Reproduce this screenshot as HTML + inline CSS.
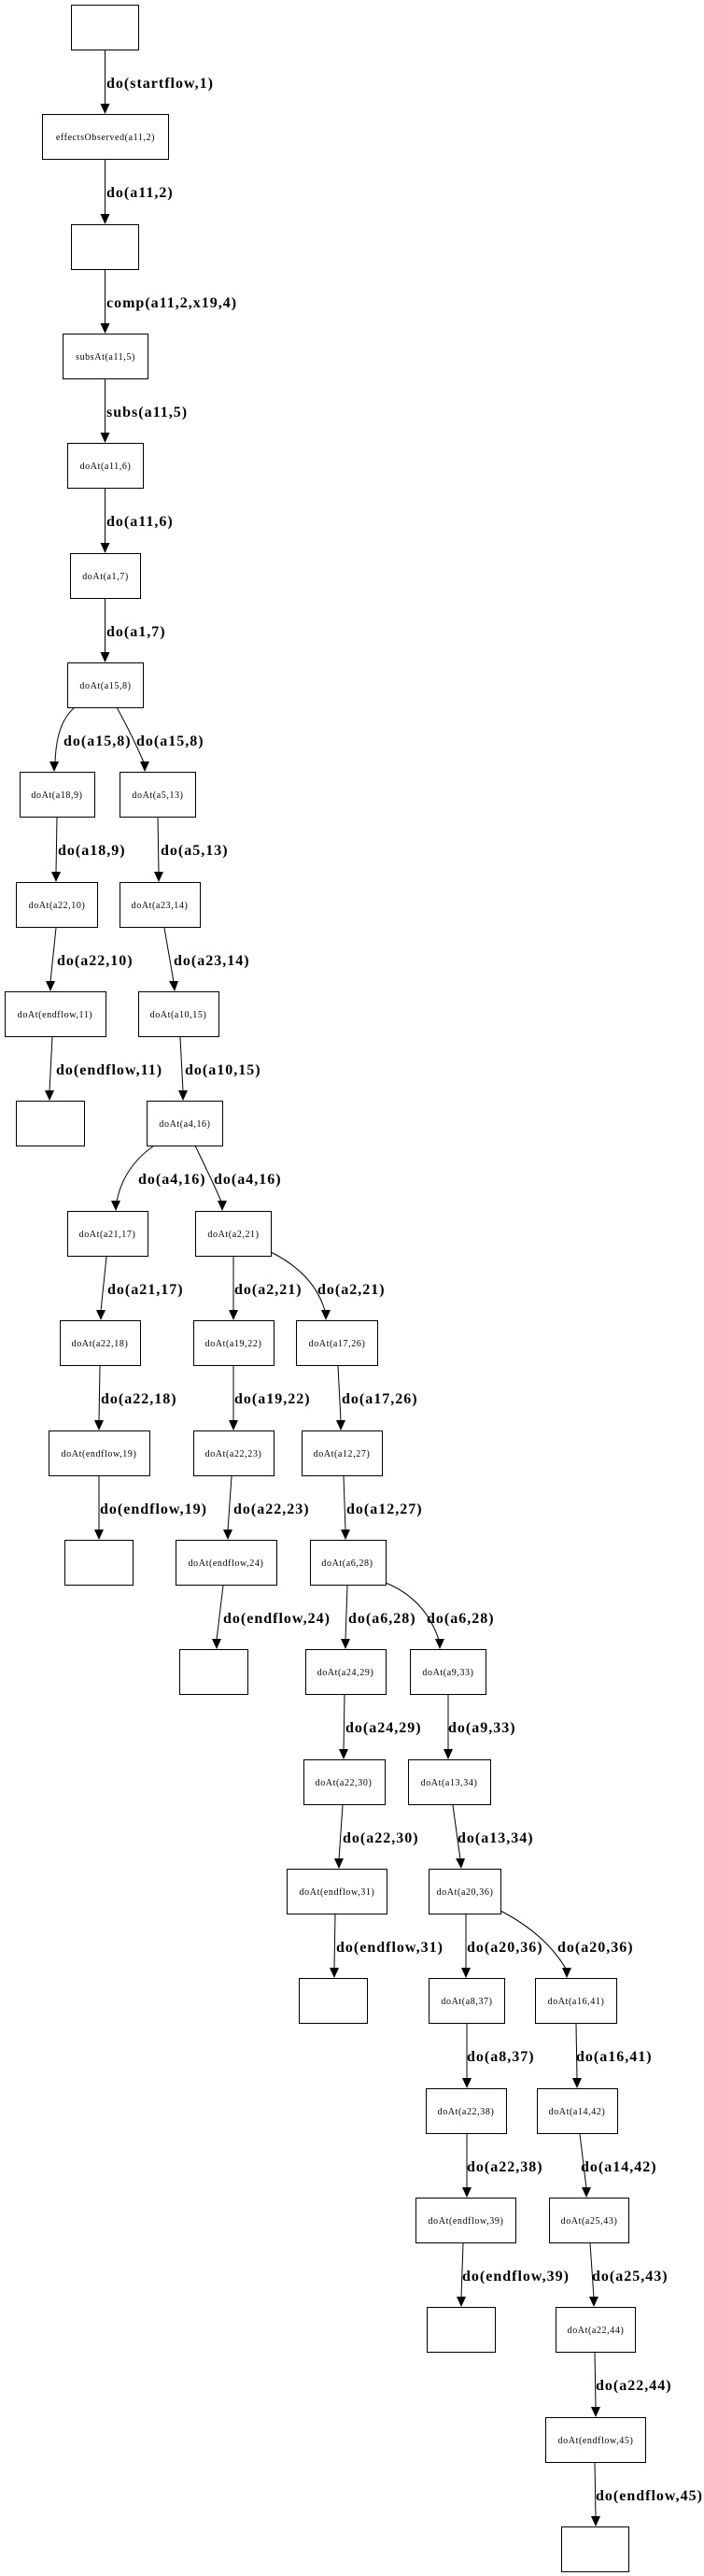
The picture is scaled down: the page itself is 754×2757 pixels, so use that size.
<!DOCTYPE html>
<html><head><meta charset="utf-8"><style>
html,body{margin:0;padding:0;background:#fff;}
svg{display:block;}
.n{fill:#fff;stroke:#000;stroke-width:1;}
.e{fill:none;stroke:#000;stroke-width:1;}
.a{fill:#000;}
.t{font-family:"Liberation Serif",serif;font-size:10px;text-anchor:middle;letter-spacing:0.6px;}
.l{font-family:"Liberation Serif",serif;font-size:16px;font-weight:bold;letter-spacing:1px;}
</style></head><body>
<svg width="754" height="2757" viewBox="0 0 754 2757" xmlns="http://www.w3.org/2000/svg">
<rect class="n" x="76.5" y="5.5" width="72" height="48"/>
<rect class="n" x="45.5" y="122.5" width="135" height="48"/><text class="t" x="113" y="150">effectsObserved(a11,2)</text>
<rect class="n" x="76.5" y="240.5" width="72" height="48"/>
<rect class="n" x="67.5" y="357.5" width="91" height="48"/><text class="t" x="113" y="385">subsAt(a11,5)</text>
<rect class="n" x="72.5" y="474.5" width="81" height="48"/><text class="t" x="113" y="502">doAt(a11,6)</text>
<rect class="n" x="75.5" y="592.5" width="75" height="48"/><text class="t" x="113" y="620">doAt(a1,7)</text>
<rect class="n" x="72.5" y="709.5" width="81" height="48"/><text class="t" x="113" y="737">doAt(a15,8)</text>
<rect class="n" x="21.5" y="826.5" width="80" height="48"/><text class="t" x="61" y="854">doAt(a18,9)</text>
<rect class="n" x="128.5" y="826.5" width="81" height="48"/><text class="t" x="169" y="854">doAt(a5,13)</text>
<rect class="n" x="17.5" y="944.5" width="87" height="48"/><text class="t" x="61" y="972">doAt(a22,10)</text>
<rect class="n" x="128.5" y="944.5" width="86" height="48"/><text class="t" x="171" y="972">doAt(a23,14)</text>
<rect class="n" x="5.5" y="1061.5" width="108" height="48"/><text class="t" x="59" y="1089">doAt(endflow,11)</text>
<rect class="n" x="148.5" y="1061.5" width="86" height="48"/><text class="t" x="191" y="1089">doAt(a10,15)</text>
<rect class="n" x="17.5" y="1178.5" width="73" height="48"/>
<rect class="n" x="157.5" y="1178.5" width="81" height="48"/><text class="t" x="198" y="1206">doAt(a4,16)</text>
<rect class="n" x="72.5" y="1296.5" width="86" height="48"/><text class="t" x="115" y="1324">doAt(a21,17)</text>
<rect class="n" x="209.5" y="1296.5" width="81" height="48"/><text class="t" x="250" y="1324">doAt(a2,21)</text>
<rect class="n" x="64.5" y="1413.5" width="86" height="48"/><text class="t" x="107" y="1441">doAt(a22,18)</text>
<rect class="n" x="207.5" y="1413.5" width="86" height="48"/><text class="t" x="250" y="1441">doAt(a19,22)</text>
<rect class="n" x="317.5" y="1413.5" width="87" height="48"/><text class="t" x="361" y="1441">doAt(a17,26)</text>
<rect class="n" x="52.5" y="1531.5" width="108" height="48"/><text class="t" x="106" y="1559">doAt(endflow,19)</text>
<rect class="n" x="207.5" y="1531.5" width="86" height="48"/><text class="t" x="250" y="1559">doAt(a22,23)</text>
<rect class="n" x="323.5" y="1531.5" width="86" height="48"/><text class="t" x="366" y="1559">doAt(a12,27)</text>
<rect class="n" x="69.5" y="1648.5" width="73" height="48"/>
<rect class="n" x="188.5" y="1648.5" width="108" height="48"/><text class="t" x="242" y="1676">doAt(endflow,24)</text>
<rect class="n" x="332.5" y="1648.5" width="81" height="48"/><text class="t" x="372" y="1676">doAt(a6,28)</text>
<rect class="n" x="192.5" y="1765.5" width="73" height="48"/>
<rect class="n" x="327.5" y="1765.5" width="86" height="48"/><text class="t" x="370" y="1793">doAt(a24,29)</text>
<rect class="n" x="439.5" y="1765.5" width="81" height="48"/><text class="t" x="480" y="1793">doAt(a9,33)</text>
<rect class="n" x="325.5" y="1883.5" width="87" height="48"/><text class="t" x="368" y="1911">doAt(a22,30)</text>
<rect class="n" x="437.5" y="1883.5" width="88" height="48"/><text class="t" x="481" y="1911">doAt(a13,34)</text>
<rect class="n" x="307.5" y="2000.5" width="107" height="48"/><text class="t" x="361" y="2028">doAt(endflow,31)</text>
<rect class="n" x="459.5" y="2000.5" width="77" height="48"/><text class="t" x="498" y="2028">doAt(a20,36)</text>
<rect class="n" x="320.5" y="2117.5" width="73" height="48"/>
<rect class="n" x="459.5" y="2117.5" width="81" height="48"/><text class="t" x="500" y="2145">doAt(a8,37)</text>
<rect class="n" x="573.5" y="2117.5" width="87" height="48"/><text class="t" x="617" y="2145">doAt(a16,41)</text>
<rect class="n" x="456.5" y="2235.5" width="86" height="48"/><text class="t" x="499" y="2263">doAt(a22,38)</text>
<rect class="n" x="575.5" y="2235.5" width="86" height="48"/><text class="t" x="618" y="2263">doAt(a14,42)</text>
<rect class="n" x="445.5" y="2352.5" width="107" height="48"/><text class="t" x="499" y="2380">doAt(endflow,39)</text>
<rect class="n" x="588.5" y="2352.5" width="85" height="48"/><text class="t" x="631" y="2380">doAt(a25,43)</text>
<rect class="n" x="457.5" y="2469.5" width="73" height="48"/>
<rect class="n" x="595.5" y="2469.5" width="85" height="48"/><text class="t" x="638" y="2497">doAt(a22,44)</text>
<rect class="n" x="584.5" y="2587.5" width="107" height="48"/><text class="t" x="638" y="2615">doAt(endflow,45)</text>
<rect class="n" x="601.5" y="2704.5" width="72" height="48"/>

<g>
<path class="e" d="M112.5,54 L112.5,112"/><polygon class="a" points="107.5,111 117.5,111 112.5,122"/><text class="l" x="114" y="94">do(startflow,1)</text>
<path class="e" d="M112.5,171 L112.5,230"/><polygon class="a" points="107.5,229 117.5,229 112.5,240"/><text class="l" x="114" y="211">do(a11,2)</text>
<path class="e" d="M112.5,289 L112.5,347"/><polygon class="a" points="107.5,346 117.5,346 112.5,357"/><text class="l" x="114" y="329">comp(a11,2,x19,4)</text>
<path class="e" d="M112.5,406 L112.5,464"/><polygon class="a" points="107.5,463 117.5,463 112.5,474"/><text class="l" x="114" y="446">subs(a11,5)</text>
<path class="e" d="M112.5,523 L112.5,582"/><polygon class="a" points="107.5,581 117.5,581 112.5,592"/><text class="l" x="114" y="563">do(a11,6)</text>
<path class="e" d="M112.5,641 L112.5,699"/><polygon class="a" points="107.5,698 117.5,698 112.5,709"/><text class="l" x="114" y="681">do(a1,7)</text>

<path class="e" d="M80,757 C65,770 60,790 59,816"/><polygon class="a" points="53,815 63,815 58,826"/><text class="l" x="68" y="798">do(a15,8)</text>
<path class="e" d="M125,757 C135,775 145,795 154,816"/><polygon class="a" points="150,815 160,815 155,826"/><text class="l" x="146" y="798">do(a15,8)</text>

<path class="e" d="M61,875 L60,934"/><polygon class="a" points="55,933 65,933 60,944"/><text class="l" x="62" y="915">do(a18,9)</text>
<path class="e" d="M169,875 L170,934"/><polygon class="a" points="165,933 175,933 170,944"/><text class="l" x="172" y="915">do(a5,13)</text>
<path class="e" d="M60,993 L54,1051"/><polygon class="a" points="49,1050 59,1050 54,1061"/><text class="l" x="61" y="1033">do(a22,10)</text>
<path class="e" d="M176,993 L186,1051"/><polygon class="a" points="181,1050 191,1050 187,1061"/><text class="l" x="186" y="1033">do(a23,14)</text>
<path class="e" d="M56,1110 L53,1168"/><polygon class="a" points="48,1167 58,1167 53,1178"/><text class="l" x="60" y="1150">do(endflow,11)</text>
<path class="e" d="M193,1110 L196,1168"/><polygon class="a" points="191,1167 201,1167 196,1178"/><text class="l" x="198" y="1150">do(a10,15)</text>

<path class="e" d="M165,1226 C145,1240 130,1260 125,1286"/><polygon class="a" points="119,1285 129,1285 124,1296"/><text class="l" x="148" y="1267">do(a4,16)</text>
<path class="e" d="M209,1226 C218,1245 228,1265 237,1286"/><polygon class="a" points="233,1285 243,1285 238,1296"/><text class="l" x="229" y="1267">do(a4,16)</text>

<path class="e" d="M114,1345 L108,1403"/><polygon class="a" points="103,1402 113,1402 108,1413"/><text class="l" x="115" y="1385">do(a21,17)</text>
<path class="e" d="M250,1345 L250,1403"/><polygon class="a" points="245,1402 255,1402 250,1413"/><text class="l" x="251" y="1385">do(a2,21)</text>
<path class="e" d="M290,1340 C320,1355 340,1375 348,1403"/><polygon class="a" points="344,1402 354,1402 349,1413"/><text class="l" x="340" y="1385">do(a2,21)</text>

<path class="e" d="M107,1462 L106,1521"/><polygon class="a" points="101,1520 111,1520 106,1531"/><text class="l" x="108" y="1502">do(a22,18)</text>
<path class="e" d="M250,1462 L250,1521"/><polygon class="a" points="245,1520 255,1520 250,1531"/><text class="l" x="251" y="1502">do(a19,22)</text>
<path class="e" d="M362,1462 L365,1521"/><polygon class="a" points="360,1520 370,1520 365,1531"/><text class="l" x="366" y="1502">do(a17,26)</text>

<path class="e" d="M106,1580 L106,1638"/><polygon class="a" points="101,1637 111,1637 106,1648"/><text class="l" x="107" y="1620">do(endflow,19)</text>
<path class="e" d="M248,1580 L244,1638"/><polygon class="a" points="239,1637 249,1637 244,1648"/><text class="l" x="250" y="1620">do(a22,23)</text>
<path class="e" d="M368,1580 L370,1638"/><polygon class="a" points="365,1637 375,1637 370,1648"/><text class="l" x="371" y="1620">do(a12,27)</text>

<path class="e" d="M239,1697 L232,1755"/><polygon class="a" points="227,1754 237,1754 232,1765"/><text class="l" x="239" y="1737">do(endflow,24)</text>
<path class="e" d="M372,1697 L370,1755"/><polygon class="a" points="365,1754 375,1754 370,1765"/><text class="l" x="373" y="1737">do(a6,28)</text>
<path class="e" d="M413,1694 C440,1705 460,1725 470,1755"/><polygon class="a" points="466,1754 476,1754 471,1765"/><text class="l" x="457" y="1737">do(a6,28)</text>

<path class="e" d="M369,1814 L368,1873"/><polygon class="a" points="363,1872 373,1872 368,1883"/><text class="l" x="370" y="1854">do(a24,29)</text>
<path class="e" d="M480,1814 L480,1873"/><polygon class="a" points="475,1872 485,1872 480,1883"/><text class="l" x="480" y="1854">do(a9,33)</text>

<path class="e" d="M367,1932 L363,1990"/><polygon class="a" points="358,1989 368,1989 363,2000"/><text class="l" x="367" y="1972">do(a22,30)</text>
<path class="e" d="M485,1932 L493,1990"/><polygon class="a" points="488,1989 498,1989 494,2000"/><text class="l" x="490" y="1972">do(a13,34)</text>

<path class="e" d="M359,2049 L358,2107"/><polygon class="a" points="353,2106 363,2106 358,2117"/><text class="l" x="360" y="2089">do(endflow,31)</text>
<path class="e" d="M499,2049 L499,2107"/><polygon class="a" points="494,2106 504,2106 499,2117"/><text class="l" x="500" y="2089">do(a20,36)</text>
<path class="e" d="M536,2045 C565,2060 590,2080 606,2107"/><polygon class="a" points="602,2106 612,2106 607,2117"/><text class="l" x="597" y="2089">do(a20,36)</text>

<path class="e" d="M500,2166 L500,2225"/><polygon class="a" points="495,2224 505,2224 500,2235"/><text class="l" x="500" y="2206">do(a8,37)</text>
<path class="e" d="M617,2166 L618,2225"/><polygon class="a" points="613,2224 623,2224 618,2235"/><text class="l" x="617" y="2206">do(a16,41)</text>

<path class="e" d="M500,2284 L500,2342"/><polygon class="a" points="495,2341 505,2341 500,2352"/><text class="l" x="500" y="2324">do(a22,38)</text>
<path class="e" d="M621,2284 L628,2342"/><polygon class="a" points="623,2341 633,2341 628,2352"/><text class="l" x="622" y="2324">do(a14,42)</text>

<path class="e" d="M496,2401 L494,2459"/><polygon class="a" points="489,2458 499,2458 494,2469"/><text class="l" x="495" y="2441">do(endflow,39)</text>
<path class="e" d="M632,2401 L636,2459"/><polygon class="a" points="631,2458 641,2458 636,2469"/><text class="l" x="634" y="2441">do(a25,43)</text>

<path class="e" d="M637,2518 L638,2577"/><polygon class="a" points="633,2576 643,2576 638,2587"/><text class="l" x="638" y="2558">do(a22,44)</text>
<path class="e" d="M637,2636 L638,2694"/><polygon class="a" points="633,2693 643,2693 638,2704"/><text class="l" x="638" y="2676">do(endflow,45)</text>
</g>
</svg>
</body></html>
